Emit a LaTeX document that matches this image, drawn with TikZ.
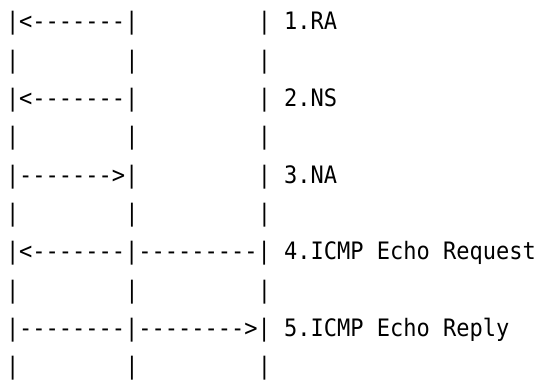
\documentclass[tikz,border=0pt]{standalone}
\usepackage{fontspec}
\setmonofont[FakeStretch=0.917]{DejaVu Sans Mono}
\begin{document}
\begin{tikzpicture}[x=1pt,y=1pt,
  asciiline/.style={anchor=base west, inner sep=0pt, outer sep=0pt,
    font=\ttfamily\fontsize{24}{24}\selectfont}]
\useasboundingbox (0,0) rectangle (540,383);
\node[asciiline] (l1)  at (6,353.0) {|<-------|~~~~~~~~~|~1.RA};
\node[asciiline] (l2)  at (6,314.7) {|~~~~~~~~|~~~~~~~~~|};
\node[asciiline] (l3)  at (6,276.4) {|<-------|~~~~~~~~~|~2.NS};
\node[asciiline] (l4)  at (6,238.1) {|~~~~~~~~|~~~~~~~~~|};
\node[asciiline] (l5)  at (6,199.8) {|------->|~~~~~~~~~|~3.NA};
\node[asciiline] (l6)  at (6,161.5) {|~~~~~~~~|~~~~~~~~~|};
\node[asciiline] (l7)  at (6,123.2) {|<-------|---------|~4.ICMP~Echo~Request};
\node[asciiline] (l8)  at (6,84.9)  {|~~~~~~~~|~~~~~~~~~|};
\node[asciiline] (l9)  at (6,46.6)  {|--------|-------->|~5.ICMP~Echo~Reply};
\node[asciiline] (l10) at (6,8.3)   {|~~~~~~~~|~~~~~~~~~|};
\end{tikzpicture}
\end{document}
